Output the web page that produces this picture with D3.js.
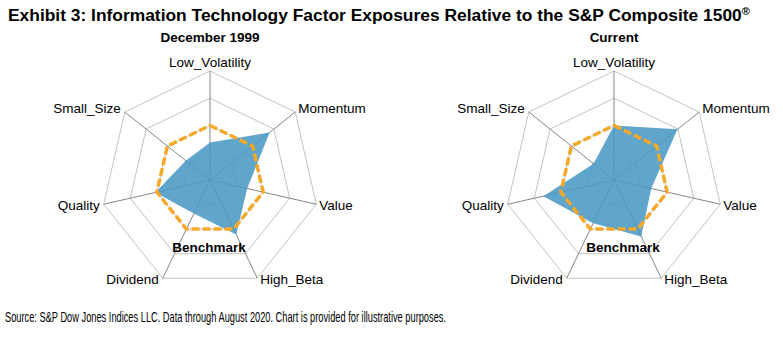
<!DOCTYPE html>
<meta charset="utf-8">
<style>
body { margin: 0; background: #fff; }
text { font-family: Arial, "Liberation Sans", sans-serif; fill: #000; }
.ring { fill: none; stroke: #c4c4c4; stroke-width: 1px; }
.spoke { stroke: #868686; stroke-width: 1px; }
.area { fill: #4a98c4; fill-opacity: 0.88; stroke: none; }
.bench { fill: none; stroke: #f4a92a; stroke-width: 3.5px; stroke-dasharray: 8,3; }
</style>
<svg width="783" height="340" id="chart"></svg>
<script src="https://cdnjs.cloudflare.com/ajax/libs/d3/7.8.5/d3.min.js"></script>
<script>

var factors = ["Low_Volatility", "Momentum", "Value", "High_Beta", "Dividend", "Quality", "Small_Size"];
var dec1999 = [0.69, 1.40, 0.70, 1.11, 0.68, 1.03, 0.57];
var current = [1.00, 1.49, 0.70, 1.15, 0.88, 1.33, 0.48];
var benchmark = [1, 1, 1, 1, 1, 1, 1];
var ringLevels = [0.5, 1, 1.5, 2];

var panels = [
  {title: "December 1999", values: dec1999, cx: 210, legendDx: -1},
  {title: "Current", values: current, cx: 614, legendDx: 9}
];

var svg = d3.select("svg#chart"),
    cy = 180,
    radius = 109;

var r = d3.scaleLinear().domain([0, 2]).range([0, radius]);
var angle = d3.scalePoint().domain(factors).range([0, 2 * Math.PI * 6 / 7]);

var radial = d3.lineRadial()
    .angle(function(d, i) { return angle(factors[i]); })
    .radius(function(d) { return r(d); })
    .curve(d3.curveLinearClosed);

svg.append("text")
    .attr("x", 8)
    .attr("y", 21)
    .style("font-size", "17.4px")
    .style("font-weight", "bold")
    .text("Exhibit 3: Information Technology Factor Exposures Relative to the S&P Composite 1500")
  .append("tspan")
    .attr("dy", "-6")
    .style("font-size", "11px")
    .text("®");

panels.forEach(function(p) {
  var g = svg.append("g").attr("transform", "translate(" + p.cx + "," + cy + ")");

  g.append("text")
      .attr("x", 0)
      .attr("y", -138)
      .attr("text-anchor", "middle")
      .style("font-size", "13.5px")
      .style("font-weight", "bold")
      .text(p.title);

  // grid
  g.selectAll(".ring")
    .data(ringLevels)
    .enter().append("path")
      .attr("class", "ring")
      .attr("d", function(lv) { return radial(factors.map(function() { return lv; })); });

  g.selectAll(".spoke")
    .data(factors)
    .enter().append("line")
      .attr("class", "spoke")
      .attr("x2", function(f) { return r(2) * Math.sin(angle(f)); })
      .attr("y2", function(f) { return -r(2) * Math.cos(angle(f)); });

  g.append("path")
      .attr("class", "area")
      .attr("d", radial(p.values));

  g.append("path")
      .attr("class", "bench")
      .attr("d", radial(benchmark));

  // axis labels
  g.selectAll(".lbl")
    .data(factors)
    .enter().append("text")
      .attr("class", "lbl")
      .style("font-size", "13.5px")
      .attr("text-anchor", function(f) {
        var s = Math.sin(angle(f));
        return s > 0.1 ? "start" : (s < -0.1 ? "end" : "middle");
      })
      .attr("x", function(f) {
        var s = Math.sin(angle(f));
        return r(2) * s + (s > 0.1 ? 3 : (s < -0.1 ? -4 : 0));
      })
      .attr("y", function(f) {
        var c = Math.cos(angle(f));
        if (c > 0.9) return -r(2) - 9;
        if (c > 0.5) return -r(2) * c - 4;
        return -r(2) * c + 1;
      })
      .attr("dy", "0.35em")
      .text(function(f) { return f; });

  g.append("text")
      .attr("x", p.legendDx)
      .attr("y", 67)
      .attr("dy", "0.35em")
      .attr("text-anchor", "middle")
      .style("font-size", "13.5px")
      .style("font-weight", "bold")
      .text("Benchmark");
});

svg.append("text")
    .attr("x", 5)
    .attr("y", 322)
    .attr("textLength", 441)
    .attr("lengthAdjust", "spacingAndGlyphs")
    .style("font-size", "15px")
    .style("font-family", "'Liberation Sans Narrow', 'Arial Narrow', Arial, sans-serif")
    .text("Source: S&P Dow Jones Indices LLC. Data through August 2020. Chart is provided for illustrative purposes.");

</script>
